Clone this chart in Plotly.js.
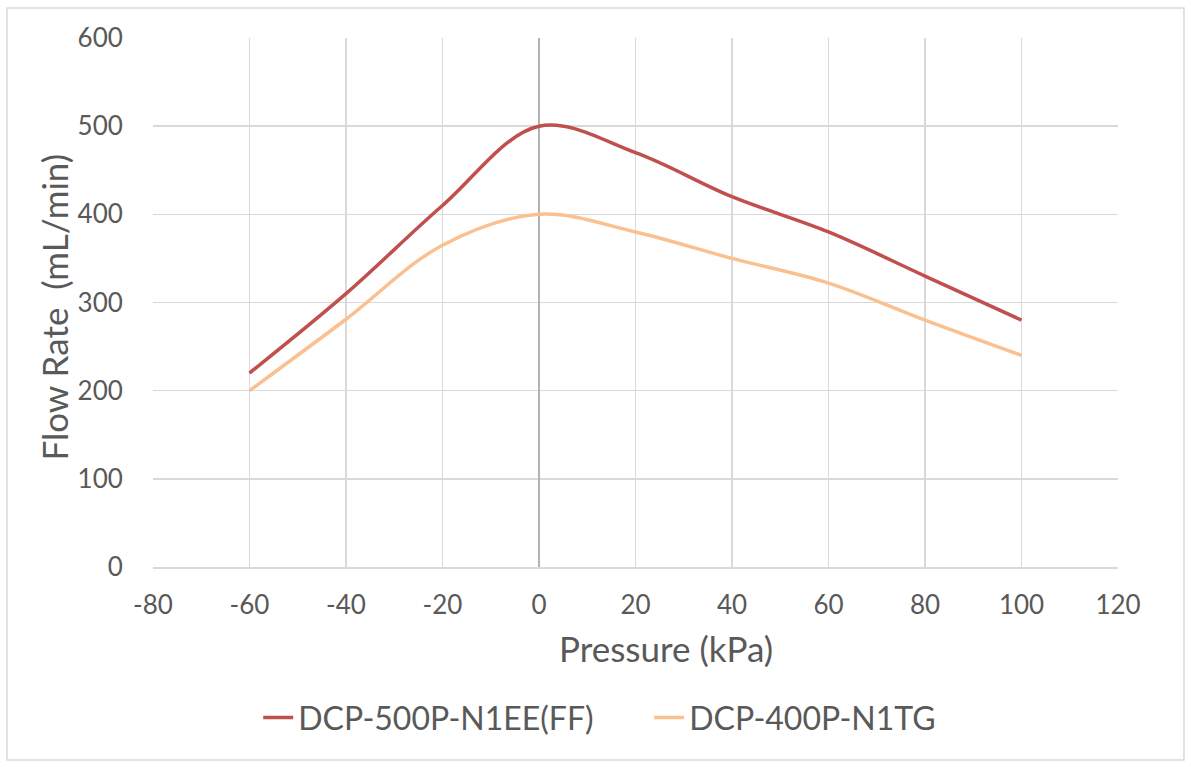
<!DOCTYPE html>
<html>
<head>
<meta charset="utf-8">
<script src="https://cdn.plot.ly/plotly-3.0.1.min.js"></script>
<style>html,body{margin:0;padding:0;background:#fff;}#chart{width:1191px;height:767px;}</style>
</head>
<body>
<div id="chart"></div>
<script>
const pressure = [-60, -40, -20, 0, 20, 40, 60, 80, 100];
const flow500 = [220, 310, 410, 500, 470, 420, 380, 330, 280];
const flow400 = [200, 281, 365, 400, 380, 350, 322, 280, 240];
const seriesNames = ["DCP-500P-N1EE(FF)", "DCP-400P-N1TG"];
const xTickVals = [-80, -60, -40, -20, 0, 20, 40, 60, 80, 100, 120];
const xTickText = ["-80", "-60", "-40", "-20", "0", "20", "40", "60", "80", "100", "120"];
const xTitle = "Pressure (kPa)";
const yTitle = "Flow Rate  (mL/min)";

const font = "Lato, Carlito, 'Open Sans', sans-serif";
const traces = [
  {x: pressure, y: flow500, name: seriesNames[0], type: "scatter", mode: "lines",
   line: {color: "#c0504d", width: 3.5, shape: "spline", smoothing: 1}},
  {x: pressure, y: flow400, name: seriesNames[1], type: "scatter", mode: "lines",
   line: {color: "#fac090", width: 3.5, shape: "spline", smoothing: 1}}
];
const layout = {
  width: 1191, height: 767,
  margin: {l: 153, r: 73, t: 38, b: 200},
  paper_bgcolor: "#fff", plot_bgcolor: "#fff",
  font: {family: font, color: "#595959", size: 26},
  showlegend: true,
  legend: {orientation: "h", x: 0.109, xanchor: "left", y: -0.285, yanchor: "middle",
           entrywidth: 346, entrywidthmode: "pixels",
           font: {size: 32, color: "#595959"}, tracegroupgap: 0},
  xaxis: {range: [-80, 120], tickvals: xTickVals, ticktext: xTickText,
          showgrid: true, gridcolor: "#d9d9d9", gridwidth: 1.5,
          zeroline: true, zerolinecolor: "#b3b3b3", zerolinewidth: 1.5,
          showline: true, linecolor: "#d9d9d9", linewidth: 1.5,
          ticks: "outside", ticklen: 14, tickcolor: "rgba(0,0,0,0)",
          tickfont: {size: 26, color: "#595959"}},
  yaxis: {range: [0, 600], dtick: 100, showgrid: true, gridcolor: "#d9d9d9", gridwidth: 1.5,
          zeroline: false, showline: false,
          ticks: "outside", ticklen: 24, tickcolor: "rgba(0,0,0,0)",
          tickfont: {size: 26, color: "#595959"}},
  annotations: [
    {text: xTitle, xref: "paper", yref: "paper", x: 0.5316, y: -0.153, xanchor: "center", yanchor: "middle",
     showarrow: false, font: {size: 35, color: "#595959"}},
    {text: yTitle, xref: "paper", yref: "paper", x: -0.1024, y: 0.491, xanchor: "center", yanchor: "middle",
     textangle: -90, showarrow: false, font: {size: 35, color: "#595959"}}
  ],
  shapes: [{type: "rect", xref: "paper", yref: "paper", x0: -0.1513, x1: 1.0684, y0: -0.3648, y1: 1.0567,
            line: {color: "#d9d9d9", width: 1.5}, fillcolor: "rgba(0,0,0,0)", layer: "below"}]
};
Plotly.newPlot("chart", traces, layout, {displayModeBar: false, staticPlot: true});
</script>
</body>
</html>
